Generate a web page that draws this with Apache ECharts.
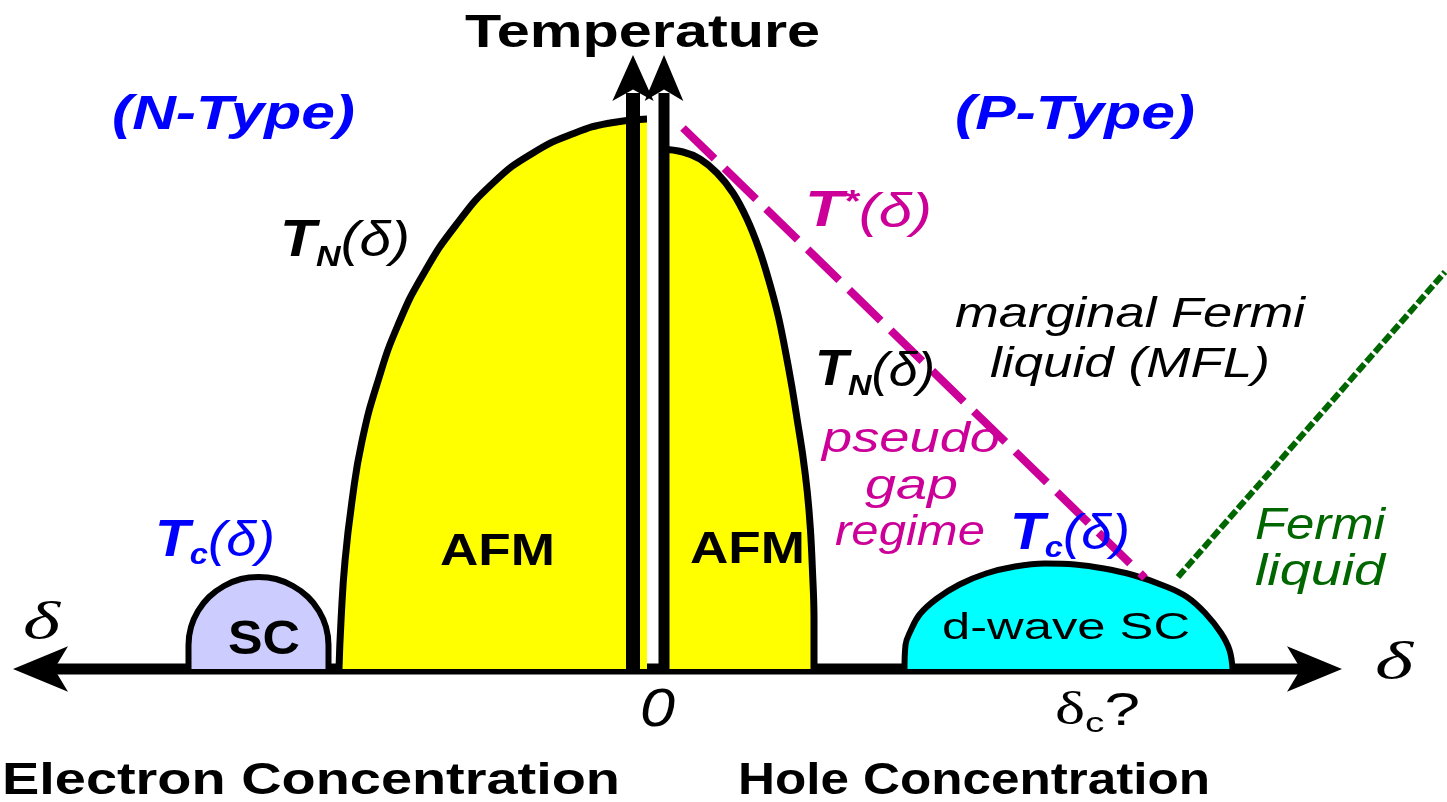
<!DOCTYPE html>
<html><head><meta charset="utf-8">
<script src="https://cdn.jsdelivr.net/npm/echarts@6/dist/echarts.min.js"></script>
<style>html,body{margin:0;padding:0;background:#fff;overflow:hidden}#c{width:1447px;height:802px}</style>
</head><body><div id="c"></div>
<script>
// ---- data: doping δ (x) and temperature T (arbitrary units) ----
const scN_delta  = [-0.23375,-0.23375,-0.2325,-0.229,-0.2235,-0.216,-0.2075,-0.19875,-0.19,-0.1815,-0.174,-0.1685,-0.165,-0.16375,-0.16375];
const scN_T      = [0,12,21,29,36,41.5,45,46,45,41.5,36,29,21,12,0];

const afmN_delta = [-0.1585,-0.1575,-0.1555,-0.152,-0.147,-0.139,-0.129,-0.116,-0.1,-0.0815,-0.0615,-0.0405,-0.023,-0.0045];
const afmN_T     = [0,24,54,84,114,144,172,198,222,243,258,268,273,275];

const afmP_delta = [0.0025,0.0135,0.022,0.0305,0.0385,0.0455,0.0515,0.0565,0.061,0.0645,0.0678,0.0707,0.0735,0.0757,0.0772,0.0782,0.079,0.079];
const afmP_T     = [260,258.5,255,248,238,225,210,194,177,160,142,124,106,88,70,50,25,0];

const dsc_delta  = [0.12425,0.12475,0.12725,0.132,0.1405,0.15175,0.165,0.1795,0.1945,0.2095,0.224,0.2385,0.253,0.2655,0.275,0.2825,0.28675,0.28825];
const dsc_T      = [0,12,19,27.5,35.25,42.25,47.75,51.25,52.75,52.25,50.25,47,42,36,27.5,18,9.5,0];

const tStar_delta = [0.0135,0.2445];
const tStar_T     = [270.5,45.5];

const fl_delta = [0.261,0.3945];
const fl_T     = [46,198.5];

// axes of the schematic (arrow tips)
const hAxis_delta = [-0.3215,0.343];
const hAxis_T     = [0,0];
const vAxisN_delta = [-0.0115,-0.0115];
const vAxisP_delta = [0.004,0.004];
const vAxis_T      = [0,307];

// ---- colours / fonts ----
const BLUE='#0000FF', MAG='#CC0099', GRN='#006600', YEL='#FFFF00', CYAN='#00FFFF', LAV='#CCCCFF';
const SANS='"Liberation Sans", Arial, Helvetica, sans-serif';
const SERIF='"Liberation Serif", "Times New Roman", serif';

const zip=(a,b)=>a.map((v,i)=>[v,b[i]]);

function dome(name,d,t,fill,w,sm){
  return {type:'line',name,data:zip(d,t),smooth:sm,symbol:'none',silent:true,
    lineStyle:{color:'#000',width:w,join:'round'},areaStyle:{color:fill,opacity:1},z:2};
}
function seg(name,d,t,color,width,type,z){
  return {type:'line',name,data:zip(d,t),symbol:'none',silent:true,
    lineStyle:{color,width,type:type||'solid',cap:'butt'},z};
}

const series=[
  seg('δ axis',[hAxis_delta[0]+0.01,hAxis_delta[1]-0.01],hAxis_T,'#000',11,'solid',1),
  dome('SC (N)',scN_delta,scN_T,LAV,6,0.35),
  dome('AFM (N)',afmN_delta,afmN_T,YEL,7,0.5),
  dome('AFM (P)',afmP_delta,afmP_T,YEL,7,0.4),
  dome('d-wave SC',dsc_delta,dsc_T,CYAN,6,0.4),
  seg('T*',tStar_delta,tStar_T,MAG,8,[44,14],4),
  seg('FL',fl_delta,fl_T,GRN,6,[10,3],4),
  seg('T axis N',vAxisN_delta,[vAxis_T[0],vAxis_T[1]-19],'#000',14,'solid',5),
  seg('T axis P',vAxisP_delta,[vAxis_T[0],vAxis_T[1]-19],'#000',11,'solid',5),
  {type:'scatter',silent:true,z:6,symbol:'arrow',itemStyle:{color:'#000',opacity:1},
   data:[
     {value:[hAxis_delta[0],hAxis_T[0]],symbolSize:[34,55],symbolRotate:90},
     {value:[hAxis_delta[1],hAxis_T[1]],symbolSize:[34,55],symbolRotate:-90},
     {value:[vAxisN_delta[1],vAxis_T[1]],symbolSize:[31,46],symbolRotate:0},
     {value:[vAxisP_delta[1],vAxis_T[1]],symbolSize:[29,46],symbolRotate:0}
   ]}
];

// ---- text labels ----
function P(t,size,o){return Object.assign({t,size,weight:'normal',style:'normal',family:SANS,color:'#000',dy:0},o||{});}
const BI={weight:'bold',style:'italic'};
const labels=[
  {x1:465,x2:820,base:50,parts:[P('Temperature',46,{weight:'bold'})]},
  {x1:112,x2:355,base:133,parts:[P('(N-Type)',49,{...BI,color:BLUE})]},
  {x1:955,x2:1195,base:133,parts:[P('(P-Type)',49,{...BI,color:BLUE})]},
  {x1:280,x2:410,base:260,parts:[P('T',52,BI),P('N',30,{...BI,dy:8}),P('(δ)',50,{style:'italic'})]},
  {x1:805,x2:932,base:230,parts:[P('T',50,{...BI,color:MAG}),P('*',32,{...BI,color:MAG,dy:-16}),P('(δ)',48,{style:'italic',color:MAG})]},
  {x1:955,x2:1305,base:330,parts:[P('marginal Fermi',42,{style:'italic'})]},
  {x1:990,x2:1270,base:380,parts:[P('liquid (MFL)',42,{style:'italic'})]},
  {x1:815,x2:935,base:389,parts:[P('T',50,BI),P('N',30,{...BI,dy:8}),P('(δ)',48,{style:'italic'})]},
  {x1:822,x2:1000,base:455,parts:[P('pseudo',42,{style:'italic',color:MAG})]},
  {x1:865,x2:958,base:502,parts:[P('gap',42,{style:'italic',color:MAG})]},
  {x1:835,x2:985,base:548,parts:[P('regime',42,{style:'italic',color:MAG})]},
  {x1:1010,x2:1130,base:553,parts:[P('T',52,{...BI,color:BLUE}),P('c',30,{...BI,color:BLUE,dy:6}),P('(δ)',50,{style:'italic',color:BLUE})]},
  {x1:155,x2:275,base:560,parts:[P('T',52,{...BI,color:BLUE}),P('c',30,{...BI,color:BLUE,dy:6}),P('(δ)',50,{style:'italic',color:BLUE})]},
  {x1:440,x2:555,base:568,parts:[P('AFM',45,{weight:'bold'})]},
  {x1:690,x2:805,base:566,parts:[P('AFM',45,{weight:'bold'})]},
  {x1:228,x2:300,base:658,parts:[P('SC',49,{weight:'bold'})]},
  {x1:942,x2:1190,base:642,parts:[P('d-wave SC',36)]},
  {x1:1255,x2:1385,base:542,parts:[P('Fermi',45,{style:'italic',color:GRN})]},
  {x1:1255,x2:1385,base:588,parts:[P('liquid',45,{style:'italic',color:GRN})]},
  {x1:23,x2:60,base:643,parts:[P('δ',52,{style:'italic',family:SERIF})]},
  {x1:1375,x2:1413,base:683,parts:[P('δ',52,{style:'italic',family:SERIF})]},
  {x1:640,x2:675,base:730,parts:[P('0',54,{style:'italic'})]},
  {x1:1055,x2:1140,base:728,parts:[P('δ',46,{family:SERIF}),P('c',28,{dy:6}),P('?',46)]},
  {x1:2,x2:620,base:797,parts:[P('Electron Concentration',45,{weight:'bold'})]},
  {x1:738,x2:1210,base:797,parts:[P('Hole Concentration',45,{weight:'bold'})]}
];

const mctx=document.createElement('canvas').getContext('2d');
function fontOf(p){return p.style+' '+p.weight+' '+p.size+'px '+p.family;}
function measure(p){mctx.font=fontOf(p);return mctx.measureText(p.t).width;}
const graphics=[];
labels.forEach(L=>{
  const ws=L.parts.map(measure);
  const total=ws.reduce((a,b)=>a+b,0);
  const s=(L.x2-L.x1)/total;
  let cum=0;
  L.parts.forEach((p,i)=>{
    graphics.push({type:'text',silent:true,z:100,
      x:L.x1+cum*s, y:L.base+p.dy-0.35*p.size, scaleX:s, scaleY:1,
      style:{text:p.t,font:fontOf(p),fill:p.color,align:'left',verticalAlign:'middle'}});
    cum+=ws[i];
  });
});

const chart=echarts.init(document.getElementById('c'),null,{renderer:'canvas'});
chart.setOption({
  animation:false,
  backgroundColor:'#fff',
  grid:{left:0,right:0,top:0,bottom:0,containLabel:false},
  xAxis:{type:'value',min:-0.328,max:0.3955,show:false},
  yAxis:{type:'value',min:-66.5,max:334.5,show:false},
  series,
  graphic:graphics
});
</script></body></html>
